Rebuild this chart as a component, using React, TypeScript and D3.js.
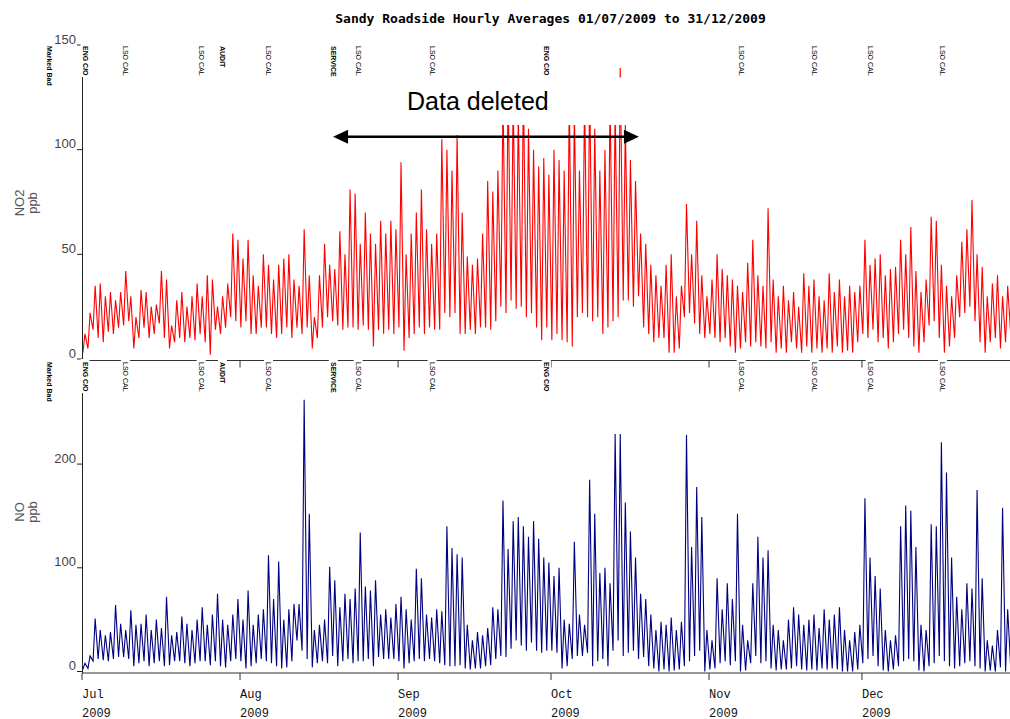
import * as React from 'react';
import {useEffect, useRef} from 'react';
import * as d3 from 'd3';

const width = 1010;
const height = 719;

const title = 'Sandy Roadside Hourly Averages 01/07/2009 to 31/12/2009';
const start = new Date(2009, 6, 1);
const end = new Date(2010, 0, 1);
const dayMs = 864e5;

// NO2, daily [low, high] in ppb
const no2Jul = [[3,12],[5,22],[14,35],[10,36],[8,30],[13,32],[12,28],[15,32],[16,42],[18,30],[5,20],[10,33],[15,32],[10,25],[12,26],[17,42],[10,38],[5,16],[8,28],[10,32],[8,25],[10,30],[9,36],[12,30],[8,40],[2,38],[14,25],[12,30],[15,36],[20,60],[18,57]];
const no2Aug = [[15,48],[18,57],[12,40],[12,35],[15,50],[15,45],[12,38],[10,45],[12,48],[15,50],[10,38],[15,35],[12,62],[15,40],[5,20],[10,40],[15,55],[20,45],[18,43],[16,61],[14,50],[15,81],[15,79],[14,55],[16,70],[14,60],[6,55],[14,66],[12,60],[14,66],[12,62]];
const no2Sep = [[15,94],[4,50],[10,60],[12,70],[15,81],[12,62],[15,55],[14,60],[14,105],[22,100],[20,90],[22,107],[12,70],[12,49],[14,45],[12,48],[15,60],[15,85],[14,80],[18,90],[25,125],[22,130],[28,125],[24,118],[25,130],[20,110],[22,100],[15,92],[9,96],[15,88]];
const no2Oct = [[9,100],[12,95],[9,90],[8,125],[6,120],[20,90],[22,125],[20,130],[18,110],[20,90],[12,100],[15,125],[18,120],[20,139],[28,112],[28,95],[25,85],[30,60],[15,55],[12,45],[8,40],[10,35],[10,45],[3,50],[3,30],[5,35],[20,74],[22,50],[17,66],[12,40],[10,30]];
const no2Nov = [[12,38],[10,50],[8,43],[10,40],[6,38],[3,35],[5,32],[8,46],[6,57],[8,40],[6,35],[5,72],[8,38],[3,30],[5,35],[3,28],[8,32],[5,25],[3,41],[6,35],[3,38],[5,30],[3,28],[5,41],[3,32],[6,38],[3,30],[4,35],[3,32],[8,35]];
const no2Dec = [[12,57],[10,45],[14,48],[8,50],[10,40],[5,43],[8,44],[12,57],[14,50],[10,63],[6,42],[3,32],[8,38],[16,68],[18,66],[10,45],[3,35],[6,30],[10,40],[20,56],[22,62],[25,76],[18,50],[8,44],[3,30],[8,36],[10,40],[5,30],[8,35],[12,40],[10,30]];

// NO, daily [low, high] in ppb
const noJul = [[2,8],[3,15],[10,51],[12,40],[11,35],[10,38],[12,64],[14,46],[14,40],[12,59],[5,45],[8,46],[10,55],[5,40],[8,50],[10,42],[5,72],[6,35],[10,38],[10,53],[8,46],[5,40],[8,50],[10,62],[10,45],[6,55],[10,75],[5,50],[4,45],[10,55],[12,70]];
const noAug = [[10,50],[3,78],[5,45],[8,55],[12,60],[10,112],[8,70],[5,106],[3,50],[4,60],[10,65],[30,65],[20,262],[12,152],[4,40],[8,45],[10,50],[8,101],[15,88],[5,62],[10,75],[12,70],[8,80],[10,134],[10,82],[12,78],[5,88],[14,55],[12,60],[12,52],[12,65]];
const noSep = [[10,72],[3,60],[8,50],[10,99],[12,90],[10,55],[12,52],[10,60],[8,58],[6,140],[5,119],[5,113],[6,110],[3,45],[2,30],[3,38],[3,35],[5,42],[6,62],[12,60],[15,165],[14,118],[22,145],[30,149],[25,140],[20,130],[28,145],[20,128],[18,110],[20,105]];
const noOct = [[20,92],[18,100],[3,50],[5,46],[12,125],[15,55],[15,45],[18,185],[5,152],[10,95],[12,100],[5,85],[20,229],[30,229],[15,163],[18,135],[20,110],[12,75],[14,70],[5,55],[3,40],[0,48],[2,45],[0,52],[1,40],[2,48],[5,228],[10,120],[15,178],[20,149],[0,40]];
const noNov = [[2,30],[3,90],[8,60],[10,85],[6,70],[10,152],[0,45],[1,30],[8,85],[15,130],[8,110],[10,117],[3,45],[1,40],[2,30],[2,50],[3,62],[5,55],[2,45],[1,50],[2,55],[1,42],[3,60],[2,50],[3,55],[2,62],[0,40],[0,30],[0,38],[2,45]];
const noDec = [[8,167],[12,110],[15,92],[5,80],[1,40],[0,30],[2,35],[5,140],[10,160],[12,155],[10,120],[1,45],[0,40],[5,142],[8,140],[15,221],[10,192],[5,110],[3,72],[5,60],[8,85],[10,80],[5,175],[3,90],[0,30],[1,25],[0,40],[4,158],[0,60],[5,20],[3,25]];

// instrument events printed along the top of each panel
const eventDates = ['2009-07-01 00:00', '2009-07-08 22:00', '2009-07-23 19:00', '2009-07-27 23:00', '2009-08-06 00:00', '2009-08-18 17:00', '2009-08-23 14:00', '2009-09-07 02:00', '2009-09-29 12:00', '2009-11-06 17:00', '2009-11-21 02:00', '2009-12-02 00:00', '2009-12-16 05:00'];
const eventLabels = ['ENG C/O', 'LSO CAL', 'LSO CAL', 'AUDIT', 'LSO CAL', 'SERVICE', 'LSO CAL', 'LSO CAL', 'ENG C/O', 'LSO CAL', 'LSO CAL', 'LSO CAL', 'LSO CAL'];

const no2Ticks = [0, 50, 100, 150];
const noTicks = [0, 100, 200];

// deleted span and its arrow
const deletedFrom = '2009-08-19 06:00';
const deletedTo = '2009-10-18 06:00';
const deletedBand = [111.8, 134.5];
const arrowLevel = 106.2;

type Pt = {t: Date, v: number};

const parse = d3.timeParse('%Y-%m-%d %H:%M');

const toSeries = (months: number[][][]): Pt[] =>
  months.flat().flatMap(([lo, hi], i) => [
    {t: new Date(+start + (i + 0.17) * dayMs), v: lo},
    {t: new Date(+start + (i + 0.58) * dayMs), v: hi},
  ]);

const sans = '"Liberation Sans", Arial, sans-serif';

export default function App() {
  const ref = useRef<SVGSVGElement>(null);

  useEffect(() => {
    const svg = d3.select(ref.current!);
    svg.selectAll('*').remove();
    svg.append('rect').attr('width', width).attr('height', height).attr('fill', '#fff');

    const x = d3.scaleTime().domain([start, end]).range([82, 1020]);
    const yNo2 = d3.scaleLinear().domain([0, 150]).range([359, 45]);
    const yNo = d3.scaleLinear().domain([0, 300]).range([671.5, 360.4]);
    const months = x.ticks(d3.timeMonth).filter(m => m < end);

    const panels = [
      {series: toSeries([no2Jul, no2Aug, no2Sep, no2Oct, no2Nov, no2Dec]), y: yNo2, top: 45, color: '#ff0000', ticks: no2Ticks, name: ['NO2', 'ppb'], mid: 203},
      {series: toSeries([noJul, noAug, noSep, noOct, noNov, noDec]), y: yNo, top: 361, color: '#000080', ticks: noTicks, name: ['NO', 'ppb'], mid: 512},
    ];

    panels.forEach(p => {
      const g = svg.append('g');
      const base = p.y(0) + 1.5;

      g.append('path')
        .datum(p.series)
        .attr('fill', 'none')
        .attr('stroke', p.color)
        .attr('stroke-width', 1.1)
        .attr('d', d3.line<Pt>().x(d => x(d.t)).y(d => p.y(d.v)));

      g.append('line')
        .attr('x1', 82.5).attr('x2', 82.5)
        .attr('y1', p.top).attr('y2', base)
        .attr('stroke', '#222');

      p.ticks.forEach(t => {
        g.append('line')
          .attr('x1', 77).attr('x2', 82)
          .attr('y1', p.y(t)).attr('y2', p.y(t))
          .attr('stroke', '#222');
        g.append('text')
          .attr('x', 76).attr('y', p.y(t) - 1.5)
          .attr('text-anchor', 'end')
          .attr('font-family', sans).attr('font-size', 13)
          .attr('fill', '#444')
          .text(t);
      });

      g.append('line')
        .attr('x1', 82).attr('x2', 1020)
        .attr('y1', base).attr('y2', base)
        .attr('stroke', '#333');

      months.forEach(m => {
        g.append('line')
          .attr('x1', x(m)).attr('x2', x(m))
          .attr('y1', base).attr('y2', base + 7)
          .attr('stroke', '#333');
      });

      const name = g.append('text')
        .attr('transform', `translate(0,${p.mid}) rotate(-90)`)
        .attr('text-anchor', 'middle')
        .attr('font-family', sans).attr('font-size', 13)
        .attr('fill', '#555');
      name.append('tspan').attr('x', 0).attr('y', 24).text(p.name[0]);
      name.append('tspan').attr('x', 0).attr('y', 37).text(p.name[1]);
    });

    // whited-out part of the NO2 trace
    svg.append('rect')
      .attr('x', x(parse(deletedFrom)!))
      .attr('width', x(parse(deletedTo)!) - x(parse(deletedFrom)!) + 20)
      .attr('y', yNo2(deletedBand[1]))
      .attr('height', yNo2(deletedBand[0]) - yNo2(deletedBand[1]))
      .attr('fill', '#fff');

    // event labels, each on a white patch
    const addLabel = (lx: number, ly: number, label: string, bold: boolean) => {
      const g = svg.append('g').attr('transform', `translate(${lx},${ly})`);
      const t = g.append('text')
        .attr('transform', 'rotate(90)')
        .attr('font-family', sans).attr('font-size', 7)
        .attr('font-weight', bold ? 'bold' : 'normal')
        .attr('fill', '#000')
        .text(label);
      const bb = (t.node() as SVGTextElement).getBBox();
      g.insert('rect', 'text')
        .attr('transform', 'rotate(90)')
        .attr('x', bb.x - 3).attr('y', bb.y - 1)
        .attr('width', bb.width + 4).attr('height', bb.height + 2)
        .attr('fill', '#fff');
    };

    panels.forEach(p => {
      eventDates.forEach((d, i) => {
        const lbl = eventLabels[i];
        addLabel(x(parse(d)!) + 0.5, p.top + 1, lbl, lbl !== 'LSO CAL');
      });
      addLabel(46.5, p.top + 1, 'Marked Bad', true);
    });

    // month labels
    months.forEach(m => {
      const t = svg.append('text')
        .attr('font-family', '"Liberation Mono", "Courier New", monospace')
        .attr('font-size', 12)
        .attr('fill', '#111');
      t.append('tspan').attr('x', x(m)).attr('y', 698).text(d3.timeFormat('%b')(m));
      t.append('tspan').attr('x', x(m)).attr('y', 716.5).text(d3.timeFormat('%Y')(m));
    });

    // title
    svg.append('text')
      .attr('x', 550.5).attr('y', 22.5)
      .attr('text-anchor', 'middle')
      .attr('font-family', '"DejaVu Sans Mono", monospace')
      .attr('font-weight', 'bold')
      .attr('font-size', 13)
      .attr('fill', '#000')
      .text(title);

    // annotation
    svg.append('text')
      .attr('x', 407).attr('y', 110)
      .attr('font-family', sans).attr('font-size', 25)
      .attr('fill', '#000')
      .text('Data deleted');

    const ax0 = x(parse(deletedFrom)!);
    const ax1 = x(parse(deletedTo)!);
    const ay = yNo2(arrowLevel);
    svg.append('line')
      .attr('x1', ax0 + 10).attr('x2', ax1 - 10)
      .attr('y1', ay).attr('y2', ay)
      .attr('stroke', '#000').attr('stroke-width', 2.5);
    svg.append('path')
      .attr('d', `M${ax0},${ay}L${ax0 + 15},${ay - 7}L${ax0 + 15},${ay + 7}Z`)
      .attr('fill', '#000');
    svg.append('path')
      .attr('d', `M${ax1},${ay}L${ax1 - 15},${ay - 7}L${ax1 - 15},${ay + 7}Z`)
      .attr('fill', '#000');
  }, []);

  return (
    <svg
      ref={ref}
      width={width}
      height={height}
      style={{position: 'absolute', left: 0, top: 0, display: 'block'}}
    />
  );
}
